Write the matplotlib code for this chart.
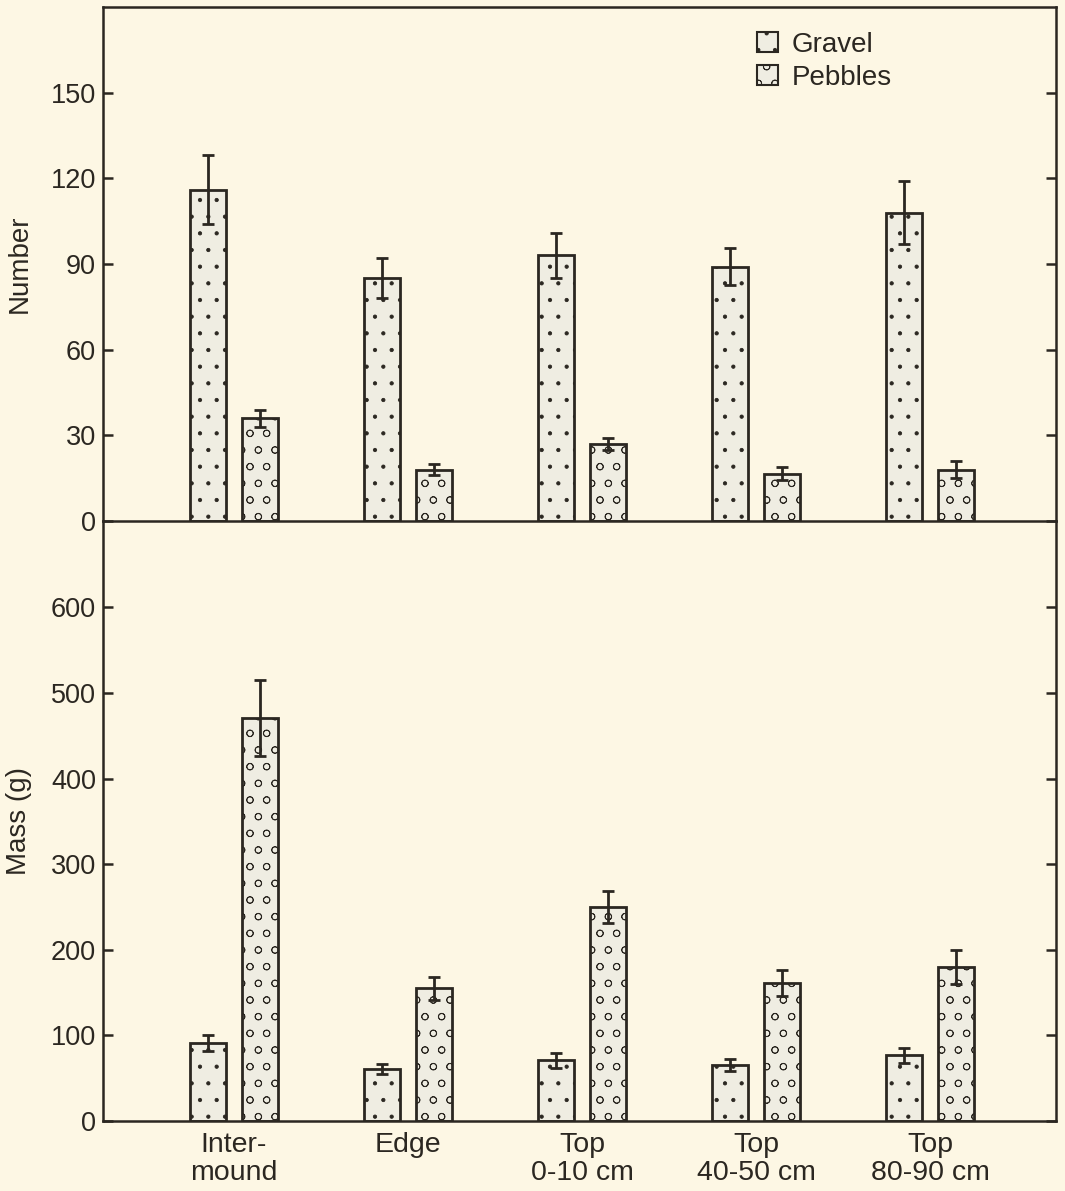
import numpy as np
import matplotlib
matplotlib.use("Agg")
import matplotlib.pyplot as plt
from matplotlib.patches import Patch

# site categories along the x axis
sites = ["Inter-\nmound", "Edge", "Top\n0-10 cm", "Top\n40-50 cm", "Top\n80-90 cm"]

# counts (top panel), mean and error
num_gravel = [116, 85, 93, 89, 108]
num_gravel_err = [12, 7, 8, 6.5, 11]
num_pebbles = [36, 18, 27, 16.5, 18]
num_pebbles_err = [3, 1.8, 2, 2.3, 3]

# mass in grams (bottom panel), mean and error
mass_gravel = [91, 61, 71, 66, 77]
mass_gravel_err = [9, 6, 8.5, 7, 8.8]
mass_pebbles = [471, 155, 250, 161, 180]
mass_pebbles_err = [44, 13.5, 19, 15, 20]

bg = "#fdf7e4"
ink = "#2b2721"
face = "#efede2"

plt.rcParams["font.family"] = ["Liberation Sans", "DejaVu Sans"]
plt.rcParams["hatch.color"] = "#8a8577"
plt.rcParams["hatch.linewidth"] = 0.6

fig = plt.figure(figsize=(10.65, 11.91), dpi=100, facecolor=bg)
left, right = 103 / 1065, 1056 / 1065
ax1 = fig.add_axes([left, 1 - 521 / 1191, right - left, (521 - 7) / 1191])
ax2 = fig.add_axes([left, 1 - 1121 / 1191, right - left, 600 / 1191])

x = np.arange(len(sites))
w = 0.207
off = 0.15


def draw(ax, g, ge, p, pe):
    ax.bar(x - off, g, w, color=face, edgecolor=ink, linewidth=2, hatch=".")
    ax.bar(x + off, p, w, color=face, edgecolor=ink, linewidth=2, hatch="o")
    ax.errorbar(x - off, g, yerr=ge, fmt="none", ecolor=ink, elinewidth=2,
                capsize=4, capthick=2)
    ax.errorbar(x + off, p, yerr=pe, fmt="none", ecolor=ink, elinewidth=2,
                capsize=4, capthick=2)
    ax.set_xlim(-0.753, 4.724)
    for s in ax.spines.values():
        s.set_color(ink)
        s.set_linewidth(1.8)
    ax.tick_params(axis="y", direction="in", length=7, width=1.8, colors=ink,
                   labelsize=19.5, left=True, right=True, pad=5)
    ax.tick_params(axis="x", length=0)


draw(ax1, num_gravel, num_gravel_err, num_pebbles, num_pebbles_err)
draw(ax2, mass_gravel, mass_gravel_err, mass_pebbles, mass_pebbles_err)
ax1.set_facecolor(bg)
ax2.patch.set_alpha(0)

ax1.set_ylim(0, 180)
ax1.set_yticks([0, 30, 60, 90, 120, 150])
ax1.set_xticks([])
ax1.set_ylabel("Number", fontsize=20, color=ink)
ax1.yaxis.set_label_coords(-0.074, 0.5)

ax2.set_ylim(0, 701)
ax2.set_yticks([0, 100, 200, 300, 400, 500, 600])
ax2.spines["top"].set_visible(False)
ax2.set_xticks(x)
ax2.set_xticklabels(sites, fontsize=20.5, color=ink, linespacing=1.08)
ax2.tick_params(axis="x", pad=8)
ax2.set_ylabel("Mass (g)", fontsize=20, color=ink)
ax2.yaxis.set_label_coords(-0.074, 0.5)

handles = [Patch(facecolor=face, edgecolor=ink, hatch=".", linewidth=1.5, label="Gravel"),
           Patch(facecolor=face, edgecolor=ink, hatch="o", linewidth=1.5, label="Pebbles")]
ax1.legend(handles=handles, loc="upper left", bbox_to_anchor=(0.66, 1.0),
           frameon=False, fontsize=20, handlelength=0.75, handleheight=0.75,
           handletextpad=0.5, labelspacing=0.25, labelcolor=ink)

fig.savefig("out.png", dpi=100, facecolor=bg)
